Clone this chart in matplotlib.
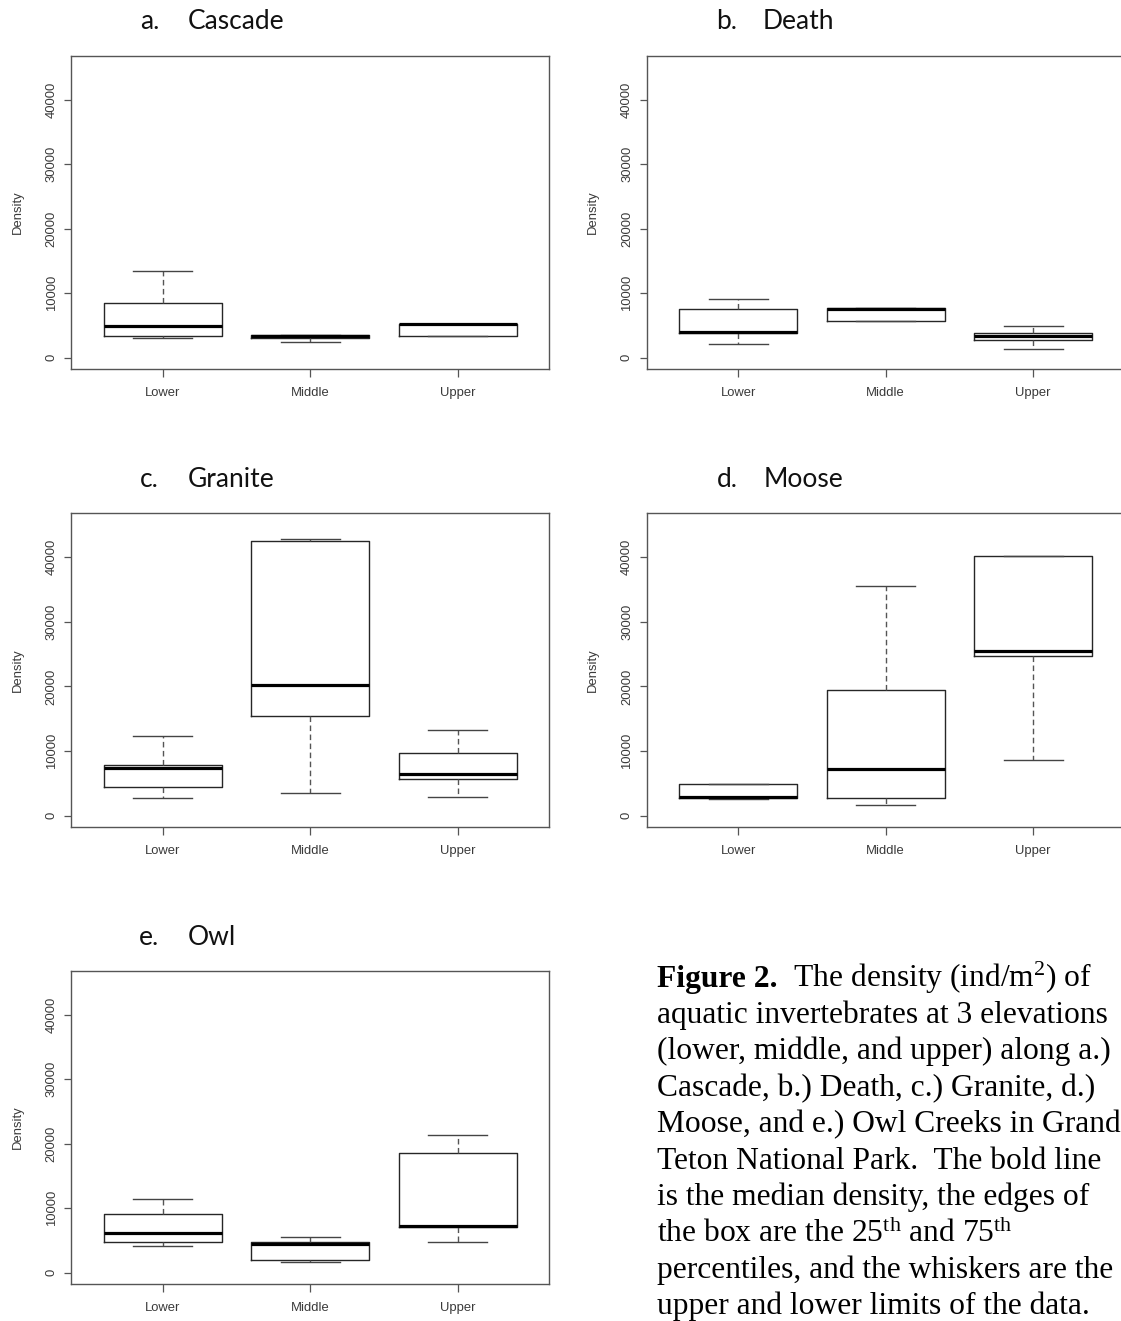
import matplotlib
matplotlib.use("Agg")
import matplotlib.pyplot as plt

W, H = 1121, 1321

creeks = ["Cascade", "Death", "Granite", "Moose", "Owl"]
letters = ["a.", "b.", "c.", "d.", "e."]
elevations = ["Lower", "Middle", "Upper"]
yticks = [0, 10000, 20000, 30000, 40000]

# box stats, one row per creek (Lower, Middle, Upper)
whislo = [[3000, 2490, 3320], [2070, 5700, 1400], [2680, 3560, 2840],
          [2580, 1650, 8570], [4200, 1610, 4720]]
q1 = [[3420, 3000, 3420], [3780, 5700, 2690], [4490, 15430, 5630],
      [2680, 2680, 24720], [4820, 2020, 7150]]
med = [[4970, 3300, 5180], [3990, 7510, 3320], [7330, 20180, 6500],
       [2840, 7170, 25440], [6220, 4460, 7310]]
q3 = [[8550, 3520, 5280], [7510, 7770, 3890], [7790, 42530, 9650],
      [4950, 19510, 40210], [9170, 4820, 18550]]
whishi = [[13470, 3520, 5280], [9120, 7770, 4970], [12390, 42790, 13320],
          [4950, 35510, 40210], [11400, 5600, 21350]]

caption = [
    "aquatic invertebrates at 3 elevations",
    "(lower, middle, and upper) along a.)",
    "Cascade, b.) Death, c.) Granite, d.)",
    "Moose, and e.) Owl Creeks in Grand",
    "Teton National Park.  The bold line",
    "is the median density, the edges of",
    r"the box are the 25$^{\mathrm{th}}$ and 75$^{\mathrm{th}}$",
    "percentiles, and the whiskers are the",
    "upper and lower limits of the data.",
]

plt.rcParams["mathtext.fontset"] = "custom"
plt.rcParams["mathtext.rm"] = "Liberation Serif"
plt.rcParams["mathtext.default"] = "rm"

# panel frames in pixels: left, top, right, bottom
frames = [(71.4, 55.7, 549.4, 369.3), (646.6, 55.7, 1124.6, 369.3),
          (71.4, 513.3, 549.4, 827.3), (646.6, 513.3, 1124.6, 827.3),
          (71.4, 971, 549.4, 1284.3)]
letter_x = [140, 716, 140, 717, 139]
name_x = [188, 763, 188, 764, 188]

fig = plt.figure(figsize=(W / 100, H / 100), dpi=100)

frame_col = "#555555"
box_col = "#262626"
label_col = "#3a3a3a"

for i, (l, t, r, b) in enumerate(frames):
    ax = fig.add_axes([l / W, 1 - b / H, (r - l) / W, (b - t) / H])
    stats = []
    for j in range(3):
        stats.append({"whislo": whislo[i][j], "q1": q1[i][j], "med": med[i][j],
                      "q3": q3[i][j], "whishi": whishi[i][j], "fliers": []})
    ax.bxp(stats, positions=[1, 2, 3], widths=0.8, capwidths=0.4,
           showfliers=False,
           boxprops=dict(color=box_col, lw=1.0),
           medianprops=dict(color="black", lw=2.3, solid_capstyle="butt"),
           whiskerprops=dict(color="#555555", lw=1.0, linestyle=(0, (4, 2.5))),
           capprops=dict(color="#444444", lw=1.0))
    ax.set_ylim(-1800, 46800)
    ax.set_xlim(0.38, 3.62)
    ax.set_xticks([1, 2, 3], labels=elevations)
    ax.set_yticks(yticks, labels=[str(v) for v in yticks])
    for lab in ax.get_yticklabels():
        lab.set_rotation(90)
        lab.set_va("center")
    for lab in ax.get_xticklabels() + ax.get_yticklabels():
        lab.set_family("Liberation Sans")
    ax.tick_params(axis="both", length=5.4, width=0.9, color=frame_col,
                   labelcolor=label_col, labelsize=9.4)
    ax.tick_params(axis="x", pad=7)
    ax.tick_params(axis="y", pad=4.4)
    for sp in ax.spines.values():
        sp.set_color(frame_col)
        sp.set_linewidth(1.0)
    ax.text(-0.112, 0.5, "Density", transform=ax.transAxes, rotation=90,
            ha="center", va="center", fontsize=9.4, color=label_col,
            family="Liberation Sans")

# overlay in pixel coordinates for titles and caption
ov = fig.add_axes([0, 0, 1, 1])
ov.set_xlim(0, W)
ov.set_ylim(H, 0)
ov.axis("off")
ov.patch.set_alpha(0)

for i, (l, t, r, b) in enumerate(frames):
    base = t - 26.4
    ov.text(letter_x[i], base, letters[i], fontsize=19, family="Lato",
            va="baseline", color="#111111")
    ov.text(name_x[i], base, creeks[i], fontsize=19, family="Lato",
            va="baseline", color="#111111")

cap_x = 657
cap_y = 986.7
cap_step = 36.4
cap_size = 22.7
t1 = ov.text(cap_x, cap_y, "Figure 2.", fontsize=cap_size,
             family="Liberation Serif", weight="bold", va="baseline")
ov.annotate("  The density (ind/m$^{2}$) of", xy=(1, cap_y),
            xycoords=(t1, "data"), va="baseline", fontsize=cap_size,
            family="Liberation Serif")
for k, line in enumerate(caption):
    ov.text(cap_x, cap_y + cap_step * (k + 1), line, fontsize=cap_size,
            family="Liberation Serif", va="baseline")

fig.savefig("out.png", dpi=100)
